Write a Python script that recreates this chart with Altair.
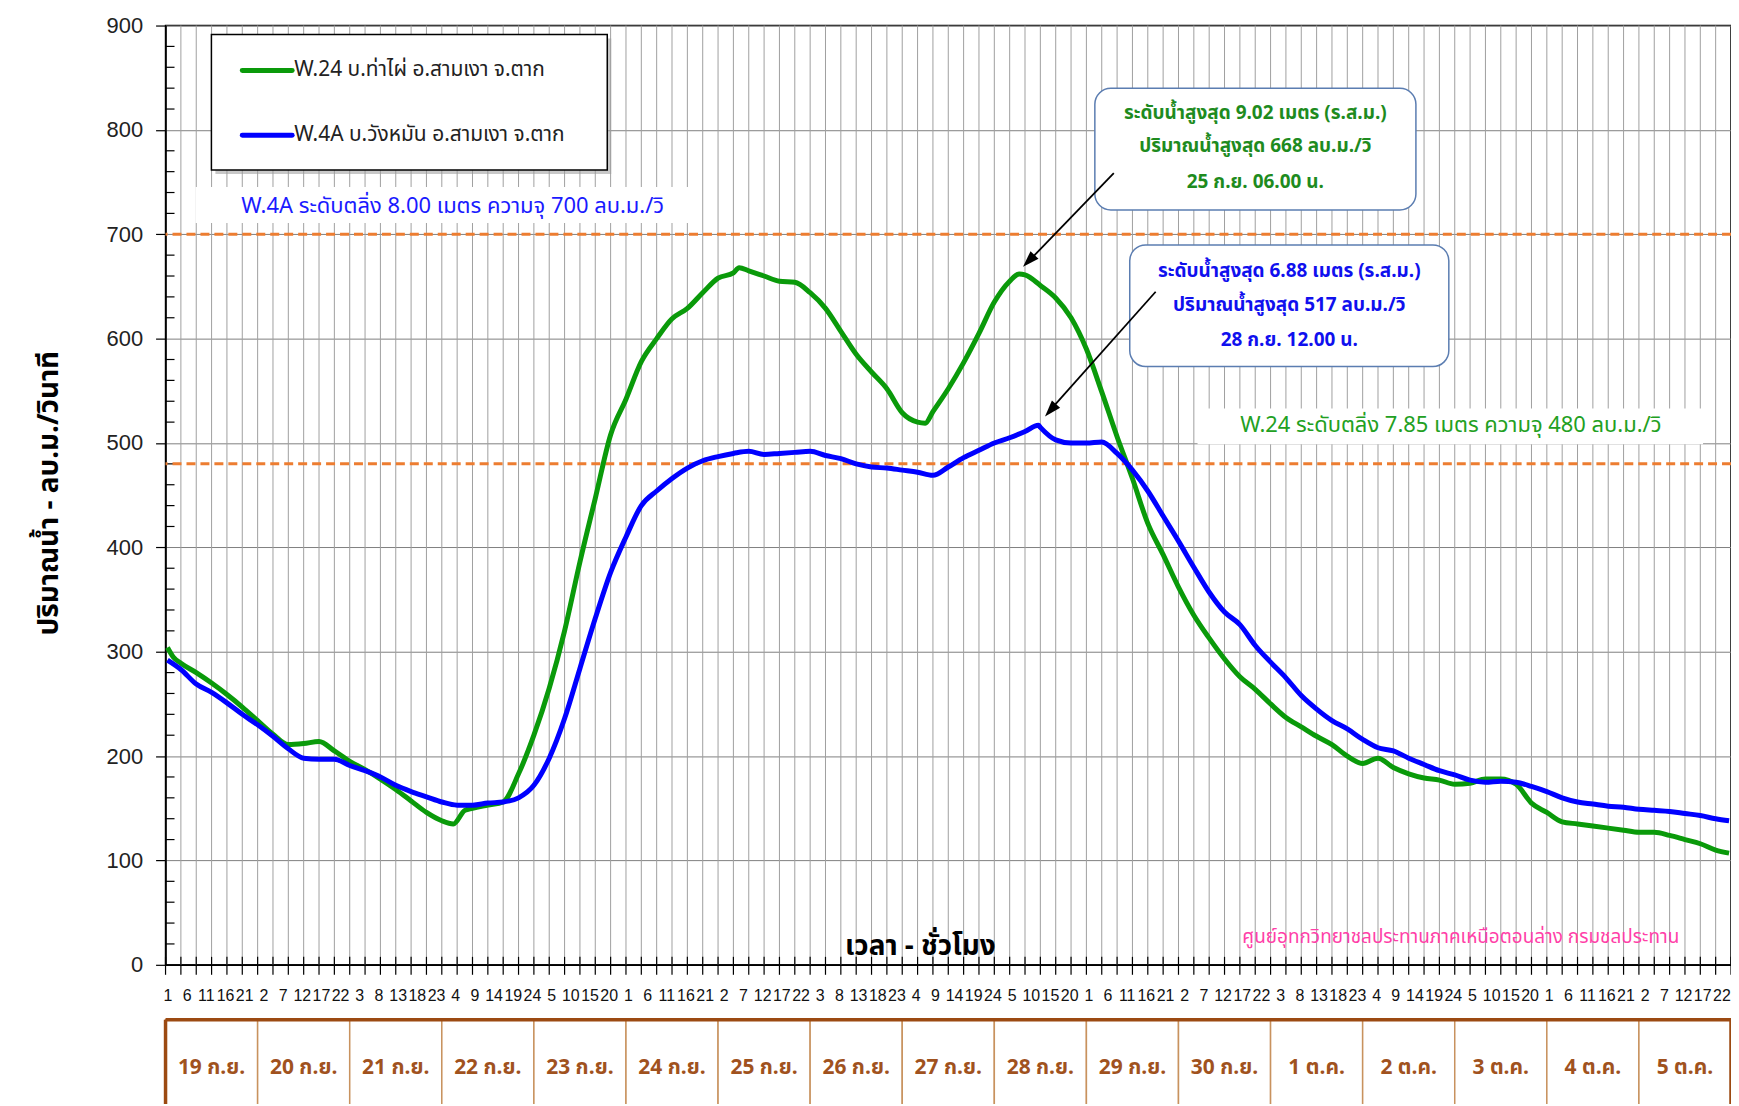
import altair as alt
import pandas as pd

# ---------------- data ----------------
# hour index from 19 Sep 01:00 (0) to 5 Oct 24:00 (407); points at band centres
green_hours = [0.5, 2,
               4, 8, 12, 16, 20, 24, 28, 32, 36, 40, 44, 48, 52, 56, 60, 64, 68, 72,
               75, 78,
               80, 84, 88, 92, 96, 100, 104, 108, 112, 116, 120, 124, 128, 132, 136, 140, 144, 148,
               149.5,
               152, 156, 160, 164, 168, 172, 176, 180, 184, 188, 192, 196,
               198,
               200, 204, 208, 212, 216, 220,
               222.5,
               224, 228, 232, 236, 240, 244, 248, 252, 256, 260,
               264, 268, 272, 276, 280, 284, 288, 292, 296, 300,
               304, 308, 312, 316, 320, 324, 328, 332, 336, 340,
               344, 348, 352, 356, 360, 364, 368, 372, 376, 380,
               384, 388, 392, 396, 400, 404,
               407.5]
green_flow = [304, 295,
              289, 280, 270, 259, 247, 234, 221, 211, 212, 214, 205, 195, 187, 178, 168, 157, 146, 138,
              135, 148,
              150, 153, 156, 183, 220, 265, 320, 386, 447, 508, 542, 578, 600, 619, 629, 644, 658, 663,
              668,
              665, 660, 655, 654, 644, 629, 607, 585, 568, 552, 529, 520,
              519,
              530, 552, 577, 605, 635, 655,
              662,
              661, 651, 639, 620, 590, 549, 506, 466, 423, 393,
              362, 335, 313, 293, 276, 264, 250, 237, 228, 219,
              211, 200, 193, 198, 189, 183, 179, 177, 173, 174,
              178, 178, 173, 155, 146, 137, 135, 133, 131, 129,
              127, 127, 124, 120, 116, 110,
              107]

blue_hours = [0.5,
              4, 8, 12, 16, 20, 24, 28, 32, 36, 40,
              44, 48, 52, 56, 60, 64, 68, 72, 76, 80,
              84, 88, 92, 96, 100, 104, 108, 112, 116, 120,
              124, 128, 132, 136, 140, 144, 148, 152, 156, 160,
              164, 168, 172, 176, 180, 184, 188, 192, 196, 200,
              204, 208, 212, 216, 220, 224,
              227.5,
              228, 232, 236, 240, 244, 248, 252, 256, 260, 264,
              268, 272, 276, 280, 284, 288, 292, 296, 300, 304,
              308, 312, 316, 320, 324, 328, 332, 336, 340, 344,
              348, 352, 356, 360, 364, 368, 372, 376, 380, 384,
              388, 392, 396, 400, 404,
              407.5]
blue_flow = [292,
             283, 269, 261, 251, 240, 230, 219, 207, 198, 197,
             197, 191, 186, 180, 172, 166, 161, 156, 153, 153,
             155, 156, 160, 172, 198, 236, 284, 332, 376, 410,
             440, 454, 466, 476, 483, 487, 490, 492, 489, 490,
             491, 492, 488, 485, 480, 477, 476, 474, 472, 469,
             477, 486, 493, 500, 505, 511,
             517,
             515, 503, 500, 500, 501, 490, 474, 454, 430, 406,
             381, 357, 338, 326, 306, 290, 275, 258, 245, 234,
             226, 216, 208, 205, 198, 192, 186, 182, 177, 175,
             176, 175, 171, 166, 160, 156, 154, 152, 151, 149,
             148, 147, 145, 143, 140,
             138]

series_names = ["W.24 บ.ท่าไผ่ อ.สามเงา จ.ตาก", "W.4A บ.วังหมัน อ.สามเงา จ.ตาก"]
day_labels = ["19 ก.ย.", "20 ก.ย.", "21 ก.ย.", "22 ก.ย.", "23 ก.ย.", "24 ก.ย.",
              "25 ก.ย.", "26 ก.ย.", "27 ก.ย.", "28 ก.ย.", "29 ก.ย.", "30 ก.ย.",
              "1 ต.ค.", "2 ต.ค.", "3 ต.ค.", "4 ต.ค.", "5 ต.ค."]
threshold_values = [700, 480]
threshold_texts = ["W.4A ระดับตลิ่ง 8.00 เมตร ความจุ 700 ลบ.ม./วิ",
                   "W.24 ระดับตลิ่ง 7.85 เมตร ความจุ 480 ลบ.ม./วิ"]
peak_green_lines = ["ระดับน้ำสูงสุด 9.02 เมตร (ร.ส.ม.)",
                    "ปริมาณน้ำสูงสุด 668 ลบ.ม./วิ",
                    "25 ก.ย. 06.00 น."]
peak_blue_lines = ["ระดับน้ำสูงสุด 6.88 เมตร (ร.ส.ม.)",
                   "ปริมาณน้ำสูงสุด 517 ลบ.ม./วิ",
                   "28 ก.ย. 12.00 น."]
y_title = "ปริมาณน้ำ   -   ลบ.ม./วินาที"
x_title = "เวลา  -  ชั่วโมง"
credit = "ศูนย์อุทกวิทยาชลประทานภาคเหนือตอนล่าง กรมชลประทาน"

N_HOURS = 408
W, H = 1570, 942
THAI = "Tahoma, 'Noto Sans Thai', 'Leelawadee UI', sans-serif"
NUM = "Liberation Sans, Arial, sans-serif"
GREEN = "#0A9A0A"
BLUE = "#0000FF"
ORANGE = "#ED7D31"
BROWN = "#9C4A12"

xs = alt.Scale(domain=[0, N_HOURS], nice=False, zero=False)
ys = alt.Scale(domain=[0, 900], nice=False)

green_df = pd.DataFrame({"hour": green_hours, "flow": green_flow})
blue_df = pd.DataFrame({"hour": blue_hours, "flow": blue_flow})
label_pos = [i + 0.5 for i in range(0, N_HOURS, 5)]
vgrid_df = pd.DataFrame({"h": list(range(4, N_HOURS, 4))})
xtick_df = pd.DataFrame({"h": list(range(0, N_HOURS + 1, 4))})
minor_df = pd.DataFrame({"v": [v for v in range(20, 900, 20) if v % 100]})
thr_df = pd.DataFrame({"v": threshold_values})
days_df = pd.DataFrame({"label": day_labels,
                        "start": [24 * i for i in range(len(day_labels))],
                        "end": [24 * (i + 1) for i in range(len(day_labels))],
                        "mid": [24 * i + 12 for i in range(len(day_labels))]})
one = alt.Data(values=[{"a": 1}])

x_axis = alt.Axis(values=label_pos, labelExpr="floor(datum.value) % 24 + 1",
                  ticks=False, tickSize=0, grid=False, domainColor="black", domainWidth=1.5,
                  labelFont=NUM, labelFontSize=16, labelColor="#111111", labelPadding=23,
                  labelOverlap=False, labelFlush=False, labelAngle=0, labelBound=False, title=None)
y_axis = alt.Axis(values=list(range(0, 1000, 100)), grid=True, gridColor="#808080", gridWidth=1,
                  tickSize=10, tickColor="black", tickWidth=1.2, domainColor="black", domainWidth=1.5,
                  labelFont=NUM, labelFontSize=22, labelColor="#222222", labelPadding=13, title=None)


def X(field):
    return alt.X(field, scale=xs, axis=x_axis)


def Y(field):
    return alt.Y(field, scale=ys, axis=y_axis)


def txt(text, x, y, size, color="black", weight="normal", font=THAI, align="center", angle=0):
    kw = dict(text=text, fontSize=size, color=color, fontWeight=weight, font=font,
              align=align, baseline="middle")
    if angle:
        kw["angle"] = angle
    return alt.Chart(one).mark_text(**kw).encode(x=alt.value(x), y=alt.value(y))


def box(x1, x2, y1, y2, fill="white", stroke=None, sw=1.5, radius=0, opacity=1):
    kw = dict(fill=fill, opacity=opacity)
    if stroke:
        kw.update(stroke=stroke, strokeWidth=sw)
    if radius:
        kw["cornerRadius"] = radius
    return alt.Chart(one).mark_rect(**kw).encode(
        x=alt.value(x1), x2=alt.value(x2), y=alt.value(y1), y2=alt.value(y2))


def seg(x1, y1, x2, y2, color="black", width=1.5, cap="butt"):
    return alt.Chart(one).mark_rule(color=color, strokeWidth=width, strokeCap=cap).encode(
        x=alt.value(x1), x2=alt.value(x2), y=alt.value(y1), y2=alt.value(y2))


vgrid = alt.Chart(vgrid_df).mark_rule(color="#a0a0a0", strokeWidth=1).encode(
    x=X("h:Q"), y=alt.value(0), y2=alt.value(H))
xticks = alt.Chart(xtick_df).mark_rule(color="black", strokeWidth=1.2).encode(
    x=X("h:Q"), y=alt.value(H - 8), y2=alt.value(H + 10))
yminor = alt.Chart(minor_df).mark_rule(color="black", strokeWidth=1.2).encode(
    y=Y("v:Q"), x=alt.value(0), x2=alt.value(9))

white_a = box(30, 530, 162, 198)
white_b = box(1035, 1542, 384, 420)
thr = alt.Chart(thr_df).mark_rule(color=ORANGE, strokeWidth=3, strokeDash=[9, 5]).encode(y=Y("v:Q"))
thr_a = txt(threshold_texts[0], 288, 181, 22, color="#1A1AFF")
thr_b = txt(threshold_texts[1], 1289, 401, 22, color="#22A022")

line_g = alt.Chart(green_df).mark_line(color=GREEN, strokeWidth=5, interpolate="monotone").encode(
    x=X("hour:Q"), y=Y("flow:Q"))
line_b = alt.Chart(blue_df).mark_line(color=BLUE, strokeWidth=5, interpolate="monotone").encode(
    x=X("hour:Q"), y=Y("flow:Q"))

# legend
leg = [box(50, 447, 13, 149, fill="#9a9a9a", opacity=0.55),
       box(46, 443, 9, 145, stroke="black", sw=1.5),
       seg(77, 45, 127, 45, color=GREEN, width=5, cap="round"),
       seg(77, 110, 127, 110, color=BLUE, width=5, cap="round"),
       txt(series_names[0], 129, 45, 21, color="#222222", align="left"),
       txt(series_names[1], 129, 110, 21, color="#222222", align="left")]

# peak annotation boxes
ann = [box(932, 1254, 63, 185, stroke="#5B7DB1", sw=1.5, radius=16),
       box(967, 1287, 220, 342, stroke="#5B7DB1", sw=1.5, radius=16)]
for t, yy in zip(peak_green_lines, [88, 121, 157]):
    ann.append(txt(t, 1093, yy, 19, color="#1E8B1E", weight="bold"))
for t, yy in zip(peak_blue_lines, [246, 280, 315]):
    ann.append(txt(t, 1127, yy, 19, color="#1010EE", weight="bold"))

arrow_path = "M0,0L-0.42,1.25L0.42,1.25Z"
arrows = [seg(951, 148, 866, 236, width=1.8),
          seg(993, 267, 887, 386, width=1.8),
          alt.Chart(one).mark_point(shape=arrow_path, filled=True, color="black", size=700,
                                    angle=224, opacity=1).encode(x=alt.value(860), y=alt.value(242)),
          alt.Chart(one).mark_point(shape=arrow_path, filled=True, color="black", size=700,
                                    angle=222, opacity=1).encode(x=alt.value(882), y=alt.value(392))]

titles = [txt(x_title, 757, 924, 28, weight="bold"),
          txt(y_title, -116, 469, 28, weight="bold", angle=270),
          txt(credit, 1299, 914, 19, color="#FF3FA8")]

# date band under the axis
BAND_TOP = 997
day_rect = alt.Chart(days_df).mark_rect(fill="white", stroke="#C8925E", strokeWidth=1.5).encode(
    x=X("start:Q"), x2="end:Q", y=alt.value(BAND_TOP), y2=alt.value(1160))
day_text = alt.Chart(days_df).mark_text(font=THAI, fontSize=21, fontWeight="bold", color="#A0521E",
                                        baseline="middle").encode(
    x=X("mid:Q"), y=alt.value(1046), text="label:N")
band_border = [seg(0, BAND_TOP, W, BAND_TOP, color=BROWN, width=3.5),
               seg(0, BAND_TOP, 0, 1160, color=BROWN, width=3.5),
               seg(W, BAND_TOP, W, 1160, color=BROWN, width=3.5)]

chart = alt.layer(
    vgrid, xticks, yminor, white_a, white_b, thr, thr_a, thr_b,
    line_g, line_b, *leg, *ann, *arrows, *titles, day_rect, day_text, *band_border
).properties(
    width=W, height=H,
    autosize=alt.AutoSizeParams(type="none"),
    padding={"left": 158, "top": 16, "right": 0, "bottom": 138},
).configure_view(stroke="black", strokeWidth=1.5)

chart.save("out.html", embed_options={"renderer": "svg", "actions": False})
